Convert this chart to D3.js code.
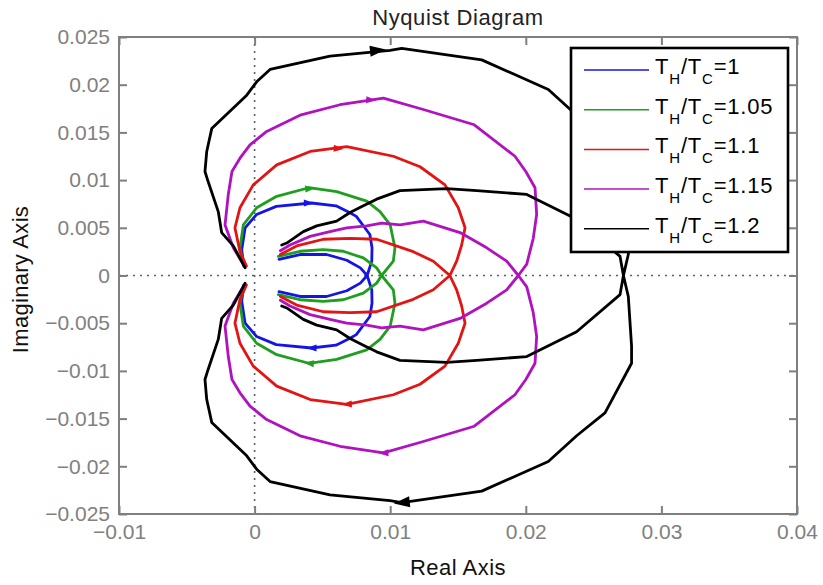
<!DOCTYPE html>
<html><head><meta charset="utf-8">
<script src="https://cdn.jsdelivr.net/npm/d3@7"></script>
<style>
body{margin:0;background:#fff;}
svg{display:block;font-family:"Liberation Sans",Arial,sans-serif;}
</style></head><body>
<svg id="c" width="823" height="585"></svg>
<script>
// ---------- data ----------
const ratios = ["1", "1.05", "1.1", "1.15", "1.2"];
const colors = ["#1414e6", "#1f9e1f", "#e31414", "#b012c0", "#000000"];

const xTicks = [-0.01, 0, 0.01, 0.02, 0.03, 0.04];
const xTickLabels = ["\u22120.01", "0", "0.01", "0.02", "0.03", "0.04"];
const yTicks = [-0.025, -0.02, -0.015, -0.01, -0.005, 0, 0.005, 0.01, 0.015, 0.02, 0.025];
const yTickLabels = ["\u22120.025", "\u22120.02", "\u22120.015", "\u22120.01", "\u22120.005", "0",
                     "0.005", "0.01", "0.015", "0.02", "0.025"];

// lower-half traces (inner arc -> real-axis crossing -> outer arc -> near origin); upper half is the mirror
const blueLower = [[0.0018,-0.0017],[0.00335,-0.0022],[0.0053,-0.0022],[0.0068,-0.0016],[0.0078,-0.0008],[0.0083,0],
  [0.00864,-0.0015],[0.00866,-0.0029],[0.0085,-0.0043],[0.0075,-0.0062],[0.0070,-0.0066],[0.0060,-0.0073],[0.0042,-0.0076],
  [0.0016,-0.00725],[0.00015,-0.0064],[-0.0007,-0.005],[-0.00095,-0.0027],[-0.0008,-0.001]];
const greenLower = [[0.00175,-0.0020],[0.00335,-0.00254],[0.00507,-0.00272],[0.00654,-0.00254],[0.00802,-0.00184],[0.009,-0.0008],[0.00937,0],
  [0.01023,-0.0015],[0.01035,-0.0029],[0.0100,-0.0053],[0.00925,-0.0067],[0.00827,-0.0078],[0.00605,-0.0088],[0.0040,-0.0092],
  [0.00163,-0.0083],[0.00015,-0.0071],[-0.00083,-0.0053],[-0.00108,-0.0029],[-0.0008,-0.0011]];
const redLower = [[0.0019,-0.0022],[0.0031,-0.0031],[0.00507,-0.0038],[0.00704,-0.0039],[0.009,-0.0038],[0.0117,-0.0025],[0.01318,-0.0015],[0.0144,0],
  [0.0149,-0.0015],[0.01527,-0.0032],[0.01552,-0.005],[0.01502,-0.0071],[0.01404,-0.0095],[0.0122,-0.0114],[0.01023,-0.0125],[0.0068,-0.0135],
  [0.0041,-0.013],[0.00163,-0.0116],[-0.0001,-0.0095],[-0.00108,-0.0071],[-0.00145,-0.005],[-0.00108,-0.0025],[-0.0006,-0.001]];
const magentaLower = [[0.0019,-0.0026],[0.00261,-0.0032],[0.00409,-0.0041],[0.00556,-0.0046],[0.00679,-0.005],[0.00827,-0.0052],[0.00937,-0.0055],
  [0.01072,-0.0053],[0.01244,-0.0057],[0.01515,-0.0045],[0.01712,-0.0029],[0.01859,-0.0015],[0.01945,0],
  [0.02007,-0.0012],[0.02055,-0.0039],[0.0208,-0.0064],[0.02068,-0.0092],[0.0200,-0.0109],[0.0192,-0.0125],[0.0162,-0.0158],[0.01244,-0.0174],
  [0.0095,-0.0186],[0.0063,-0.0179],[0.00335,-0.0168],[0.00089,-0.0151],[-0.00034,-0.0137],[-0.00108,-0.0123],[-0.00167,-0.0109],
  [-0.00194,-0.0085],[-0.00218,-0.0053],[-0.00157,-0.0029],[-0.0008,-0.0011]];
const blackLower = [[0.0020,-0.0032],[0.00237,-0.0034],[0.00359,-0.0046],[0.00458,-0.0052],[0.00605,-0.0057],[0.00704,-0.0066],[0.00802,-0.0073],
  [0.009,-0.008],[0.01072,-0.0089],[0.01417,-0.0091],[0.01638,-0.0089],[0.02007,-0.0085],[0.02375,-0.0059],[0.02695,-0.002],[0.0272,0],
  [0.02756,-0.0022],[0.0278,-0.0074],[0.0278,-0.0092],[0.02584,-0.0144],[0.02375,-0.0168],[0.02166,-0.0195],[0.01675,-0.0226],
  [0.01085,-0.0238],[0.00999,-0.0236],[0.00556,-0.0230],[0.00114,-0.0216],[0.00015,-0.0203],[-0.00058,-0.0189],[-0.00316,-0.0154],
  [-0.00353,-0.013],[-0.00366,-0.0109],[-0.00344,-0.0099],[-0.00268,-0.0067],[-0.00243,-0.0045],[-0.00157,-0.0031],[-0.0007,-0.0008]];
const traces = [blueLower, greenLower, redLower, magentaLower, blackLower];

// arrow marker positions on the lower and upper branches
const arrowsLower = [[0.0042,-0.0076],[0.0040,-0.0092],[0.0068,-0.0135],[0.0095,-0.0186],[0.01085,-0.0238]];
const arrowsUpper = [[0.0040,0.0076],[0.0041,0.0091],[0.0062,0.0133],[0.0086,0.0184],[0.0091,0.0236]];

// ---------- chart ----------
const svg = d3.select("#c");
const W = 823, H = 585;
svg.append("rect").attr("width", W).attr("height", H).attr("fill", "#fff");

const x = d3.scaleLinear().domain([-0.01, 0.04]).range([119, 797]);
const y = d3.scaleLinear().domain([-0.025, 0.025]).range([514, 37]);

// dotted zero lines
svg.append("line").attr("x1", x(0)).attr("x2", x(0)).attr("y1", y(0.025)).attr("y2", y(-0.025))
  .attr("stroke", "#556070").attr("stroke-width", 1.6).attr("stroke-dasharray", "2,5");
svg.append("line").attr("y1", y(0)).attr("y2", y(0)).attr("x1", x(-0.01)).attr("x2", x(0.04))
  .attr("stroke", "#556070").attr("stroke-width", 1.6).attr("stroke-dasharray", "2,5");

const line = d3.line().x(d => x(d[0])).y(d => y(d[1]));
const gCurves = svg.append("g");
traces.forEach((pts, i) => {
  const mirror = pts.map(d => [d[0], -d[1]]);
  [pts, mirror].forEach(p => {
    gCurves.append("path").attr("d", line(p)).attr("fill", "none")
      .attr("stroke", colors[i]).attr("stroke-width", 2.8)
      .attr("stroke-linejoin", "round").attr("stroke-linecap", "round");
  });
});

// arrows
function arrowAngle(pts, pt, flip) {
  let best = 0, bd = Infinity;
  pts.forEach((d, k) => {
    const dd = Math.hypot(x(d[0]) - x(pt[0]), y(d[1]) - y(pt[1]));
    if (dd < bd) { bd = dd; best = k; }
  });
  const a = pts[Math.max(0, best - 1)], b = pts[Math.min(pts.length - 1, best + 1)];
  let dx = x(b[0]) - x(a[0]), dy = y(b[1]) - y(a[1]);
  if (flip) { dx = -dx; dy = -dy; }
  return Math.atan2(dy, dx) * 180 / Math.PI;
}
traces.forEach((pts, i) => {
  const s = i === 4 ? 8 : 5;
  const tri = `M${s},0 L${-s},${-s * 0.7} L${-s},${s * 0.7} Z`;
  const lo = arrowsLower[i];
  gCurves.append("path").attr("d", tri).attr("fill", colors[i])
    .attr("transform", `translate(${x(lo[0])},${y(lo[1])}) rotate(${arrowAngle(pts, lo, false)})`);
  const mirror = pts.map(d => [d[0], -d[1]]);
  const up = arrowsUpper[i];
  gCurves.append("path").attr("d", tri).attr("fill", colors[i])
    .attr("transform", `translate(${x(up[0])},${y(up[1])}) rotate(${arrowAngle(mirror, up, true)})`);
});

// axes box and ticks
const axisColor = "#7f7f7f";
function styleAxis(g) {
  g.select(".domain").remove();
  g.selectAll(".tick line").attr("stroke", axisColor).attr("stroke-width", 2);
  g.selectAll(".tick text").attr("fill", "#808080").attr("font-size", 21)
    .attr("font-family", "'Liberation Sans', Arial, sans-serif");
}
svg.append("g").attr("transform", `translate(0,${y(-0.025)})`)
  .call(d3.axisBottom(x).tickValues(xTicks).tickFormat((d, i) => xTickLabels[i]).tickSizeInner(-8).tickSizeOuter(0).tickPadding(10))
  .call(styleAxis);
svg.append("g").attr("transform", `translate(0,${y(0.025)})`)
  .call(d3.axisTop(x).tickValues(xTicks).tickFormat("").tickSizeInner(-8).tickSizeOuter(0))
  .call(styleAxis);
svg.append("g").attr("transform", `translate(${x(-0.01)},0)`)
  .call(d3.axisLeft(y).tickValues(yTicks).tickFormat((d, i) => yTickLabels[i]).tickSizeInner(-8).tickSizeOuter(0).tickPadding(9))
  .call(styleAxis);
svg.append("g").attr("transform", `translate(${x(0.04)},0)`)
  .call(d3.axisRight(y).tickValues(yTicks).tickFormat("").tickSizeInner(-8).tickSizeOuter(0))
  .call(styleAxis);
svg.append("rect").attr("x", x(-0.01)).attr("y", y(0.025))
  .attr("width", x(0.04) - x(-0.01)).attr("height", y(-0.025) - y(0.025))
  .attr("fill", "none").attr("stroke", axisColor).attr("stroke-width", 2);

// titles
svg.append("text").attr("x", (x(-0.01) + x(0.04)) / 2).attr("y", 25).attr("text-anchor", "middle")
  .attr("font-size", 22).attr("letter-spacing", 0.6).attr("fill", "#222").text("Nyquist Diagram");
svg.append("text").attr("x", (x(-0.01) + x(0.04)) / 2).attr("y", 575).attr("text-anchor", "middle")
  .attr("font-size", 22).attr("letter-spacing", 0.5).attr("fill", "#111").text("Real Axis");
svg.append("text").attr("transform", `translate(28,${(y(0.025) + y(-0.025)) / 2 + 4}) rotate(-90)`)
  .attr("text-anchor", "middle").attr("font-size", 22).attr("letter-spacing", 0.3).attr("fill", "#111").text("Imaginary Axis");

// legend
const lg = svg.append("g");
lg.append("rect").attr("x", 571).attr("y", 48).attr("width", 217).attr("height", 204)
  .attr("fill", "#fff").attr("stroke", "#000").attr("stroke-width", 2.6);
ratios.forEach((r, i) => {
  const yy = 70 + i * 39.7;
  lg.append("line").attr("x1", 584).attr("x2", 649).attr("y1", yy).attr("y2", yy)
    .attr("stroke", colors[i]).attr("stroke-width", 1.5);
  const t = lg.append("text").attr("x", 655).attr("y", yy + 4).attr("font-size", 22)
    .attr("letter-spacing", 0.8).attr("fill", "#000");
  t.append("tspan").text("T");
  t.append("tspan").attr("font-size", 15).attr("dy", 10).text("H");
  t.append("tspan").attr("dy", -10).text("/T");
  t.append("tspan").attr("font-size", 15).attr("dy", 10).text("C");
  t.append("tspan").attr("dy", -10).text("=" + r);
});
</script>
</body></html>
